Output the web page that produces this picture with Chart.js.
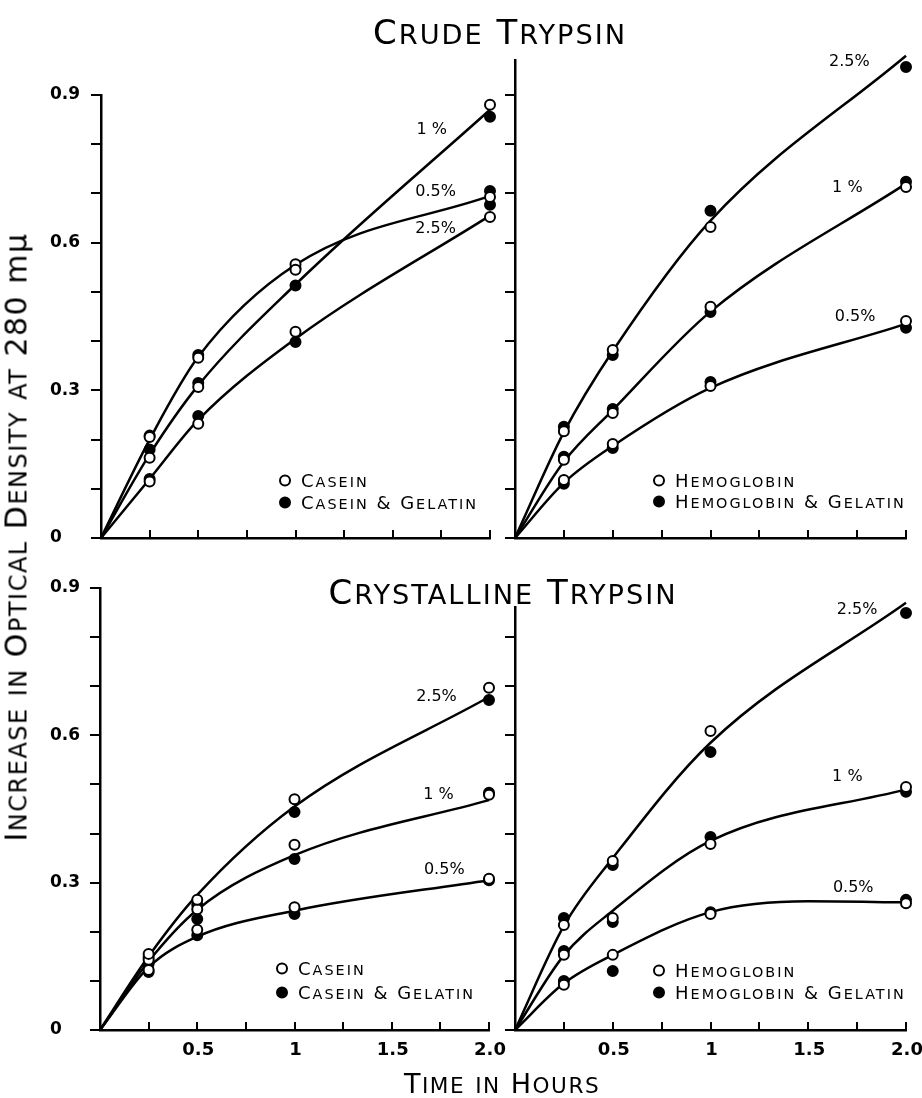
<!DOCTYPE html>
<html>
<head>
<meta charset="utf-8">
<script src="https://cdn.jsdelivr.net/npm/chart.js@4.4.1/dist/chart.umd.min.js"></script>
<style>
html,body{margin:0;padding:0;background:#fff;}
#wrap{position:relative;width:922px;height:1098px;overflow:hidden;background:#fff;}
canvas{position:absolute;left:0;top:0;}
.t{position:absolute;font-family:"DejaVu Sans";color:#000;white-space:nowrap;transform:translate(-50%,-50%);}
.s{font-size:0.8em;}
.lg{position:absolute;display:flex;align-items:center;transform:translateY(-50%);font-family:"DejaVu Sans";font-size:18px;letter-spacing:2px;color:#000;white-space:nowrap;}
.mk{display:inline-block;width:8px;height:8px;border-radius:50%;border:2px solid #000;margin-right:10px;background:#fff;flex:none;}
.mk.f{background:#000;}
</style>
</head>
<body>
<div id="wrap">
<canvas id="cTL" width="922" height="1098"></canvas>
<canvas id="cTR" width="922" height="1098"></canvas>
<canvas id="cBL" width="922" height="1098"></canvas>
<canvas id="cBR" width="922" height="1098"></canvas>
</div>
<script>
// ---------- data ----------
const times = [0.25, 0.5, 1, 2];           // sampling times (hours)
const curveTimes = [0, 0.25, 0.5, 1, 2];   // times at which the fitted curves were read
const curveTimesLong = [0, 0.25, 0.5, 1, 1.5, 2];

const xTickValues = [0.5, 1, 1.5, 2];
const xTickTexts = ['0.5', '1', '1.5', '2.0'];
const yTickValues = [0, 0.3, 0.6, 0.9];
const yTickTexts = ['0', '0.3', '0.6', '0.9'];

// Crude trypsin – casein
const crudeCas05Open = [0.205, 0.366, 0.556, 0.693];
const crudeCas05Gel  = [0.208, 0.372, 0.548, 0.705];
const crudeCas05Fit  = [0, 0.20, 0.368, 0.555, 0.695];
const crudeCas1Open  = [0.163, 0.307, 0.545, 0.88];
const crudeCas1Gel   = [0.18, 0.315, 0.513, 0.856];
const crudeCas1Fit   = [0, 0.17, 0.31, 0.515, 0.87];
const crudeCas25Open = [0.115, 0.232, 0.419, 0.652];
const crudeCas25Gel  = [0.12, 0.248, 0.398, 0.677];
const crudeCas25Fit  = [0, 0.12, 0.24, 0.405, 0.655];

// Crude trypsin – hemoglobin
const crudeHb25Open = [0.217, 0.382, 0.632, 1.016];
const crudeHb25Gel  = [0.226, 0.372, 0.665, 0.957];
const crudeHb25Fit  = [0, 0.215, 0.38, 0.645, 0.98];
const crudeHb1Open  = [0.159, 0.254, 0.47, 0.713];
const crudeHb1Gel   = [0.165, 0.262, 0.459, 0.724];
const crudeHb1Fit   = [0, 0.155, 0.26, 0.46, 0.72];
const crudeHb05Open = [0.118, 0.191, 0.309, 0.441];
const crudeHb05Gel  = [0.11, 0.183, 0.317, 0.427];
const crudeHb05Fit  = [0, 0.112, 0.187, 0.305, 0.435];

// Crystalline trypsin – casein
const crystCas25Open = [0.155, 0.265, 0.47, 0.697];
const crystCas25Gel  = [0.148, 0.255, 0.444, 0.672];
const crystCas25Fit  = [0, 0.15, 0.275, 0.455, 0.678];
const crystCas1Open  = [0.143, 0.246, 0.377, 0.479];
const crystCas1Gel   = [0.135, 0.226, 0.348, 0.483];
const crystCas1Fit   = [0, 0.14, 0.245, 0.356, 0.468];
const crystCas05Open = [0.122, 0.204, 0.25, 0.308];
const crystCas05Gel  = [0.118, 0.193, 0.236, 0.305];
const crystCas05Fit  = [0, 0.128, 0.19, 0.243, 0.305];

// Crystalline trypsin – hemoglobin
const crystHb25Open = [0.214, 0.344, 0.609, 0.89];
const crystHb25Gel  = [0.228, 0.336, 0.566, 0.849];
const crystHb25Fit  = [0, 0.212, 0.35, 0.585, 0.87];
const crystHb1Open  = [0.153, 0.228, 0.379, 0.495];
const crystHb1Gel   = [0.161, 0.22, 0.393, 0.485];
const crystHb1Fit   = [0, 0.152, 0.243, 0.385, 0.49];
const crystHb05Open = [0.092, 0.153, 0.236, 0.258];
const crystHb05Gel  = [0.1, 0.12, 0.24, 0.265];
const crystHb05Fit  = [0, 0.095, 0.153, 0.24, 0.262, 0.26];

const concTexts = ['2.5%', '1 %', '0.5%'];

// ---------- helpers ----------
const pts = (xs, ys) => ys.map((v, i) => ({x: xs[i], y: v}));
const FONT = '"DejaVu Sans"';

function markers(vals, filled) {
  return {
    data: pts(times, vals), showLine: false, clip: false,
    pointRadius: 5, pointHoverRadius: 5, pointBorderWidth: 2,
    pointBackgroundColor: filled ? '#000' : '#fff', pointBorderColor: '#000'
  };
}
function curve(vals, xs) {
  return {
    data: pts(xs || curveTimes, vals), showLine: true, clip: false,
    pointRadius: 0, borderColor: '#000', borderWidth: 2.5,
    cubicInterpolationMode: 'monotone', fill: false
  };
}
const near = (a, b) => Math.abs(a - b) < 1e-6;

const annotPlugin = {
  id: 'annot',
  afterDraw(chart, args, opts) {
    const {ctx, chartArea} = chart;
    const xs = chart.scales.x, ys = chart.scales.y;
    ctx.save();
    // upward tick marks on the time axis
    ctx.strokeStyle = '#000'; ctx.lineWidth = 2;
    xs.ticks.forEach(t => {
      if (t.value <= 0) return;
      const px = Math.round(xs.getPixelForValue(t.value));
      ctx.beginPath(); ctx.moveTo(px, chartArea.bottom); ctx.lineTo(px, chartArea.bottom - 8); ctx.stroke();
    });
    ctx.fillStyle = '#000';
    // time-axis tick labels
    if (opts.xLabels) {
      ctx.font = 'bold 18px ' + FONT;
      ctx.textAlign = 'center'; ctx.textBaseline = 'top';
      xTickValues.forEach((v, i) => ctx.fillText(xTickTexts[i], xs.getPixelForValue(v) + 1, chartArea.bottom + 11));
    }
    // concentration labels on the curves
    ctx.font = '16px ' + FONT;
    ctx.textAlign = 'center'; ctx.textBaseline = 'middle';
    (opts.labels || []).forEach(l => ctx.fillText(l.text, xs.getPixelForValue(l.x), ys.getPixelForValue(l.y)));
    ctx.restore();
  }
};

function panel(id, p) {
  new Chart(document.getElementById(id), {
    type: 'scatter',
    data: {datasets: p.datasets},
    options: {
      responsive: false, animation: false, events: [],
      layout: {autoPadding: false, padding: {left: p.left - p.yW, top: p.top, right: 922 - p.right, bottom: 1098 - p.bottom}},
      plugins: {legend: {display: false}, tooltip: {enabled: false}, title: {display: false},
        annot: {labels: p.labels, xLabels: p.xLabels}},
      scales: {
        x: {
          type: 'linear', min: 0, max: 2, position: 'bottom',
          afterFit(s) { s.height = 0; },
          grid: {display: false},
          border: {display: true, color: '#000', width: 2.5},
          ticks: {display: false, stepSize: 0.25, autoSkip: false, maxRotation: 0, includeBounds: false}
        },
        y: {
          type: 'linear', min: 0, max: p.yMax, position: 'left',
          afterFit(s) { s.width = p.yW; },
          grid: {display: true, drawOnChartArea: false, drawTicks: true, tickLength: 10, color: '#000', lineWidth: 2},
          border: {display: true, color: '#000', width: 2.5},
          ticks: {stepSize: 0.1, autoSkip: false, includeBounds: false, crossAlign: 'far', padding: 4,
            color: '#000', font: {family: 'DejaVu Sans', size: 17, weight: 'bold'},
            callback: v => { if (!p.yLabels) return ''; const i = yTickValues.findIndex(t => near(t, v)); return i >= 0 ? yTickTexts[i] : ''; }}
        }
      }
    },
    plugins: [annotPlugin]
  });
}

function sets(o25, g25, f25, o1, g1, f1, o05, g05, f05, fitXs05) {
  return [
    markers(o25, false), markers(o1, false), markers(o05, false),
    markers(g25, true), markers(g1, true), markers(g05, true),
    curve(f25), curve(f1), curve(f05, fitXs05)
  ];
}

panel('cTL', {left: 101, right: 490, top: 95, bottom: 538, yMax: 0.9, yW: 51, yLabels: true, xLabels: false,
  datasets: sets(crudeCas25Open, crudeCas25Gel, crudeCas25Fit, crudeCas1Open, crudeCas1Gel, crudeCas1Fit, crudeCas05Open, crudeCas05Gel, crudeCas05Fit),
  labels: [{text: concTexts[1], x: 1.70, y: 0.83}, {text: concTexts[2], x: 1.72, y: 0.703}, {text: concTexts[0], x: 1.72, y: 0.628}]});

panel('cTR', {left: 515, right: 906, top: 60.6, bottom: 538, yMax: 0.97, yW: 0, yLabels: false, xLabels: false,
  datasets: sets(crudeHb25Open, crudeHb25Gel, crudeHb25Fit, crudeHb1Open, crudeHb1Gel, crudeHb1Fit, crudeHb05Open, crudeHb05Gel, crudeHb05Fit),
  labels: [{text: concTexts[0], x: 1.71, y: 0.967}, {text: concTexts[1], x: 1.70, y: 0.711}, {text: concTexts[2], x: 1.74, y: 0.449}]});

panel('cBL', {left: 100, right: 489, top: 588, bottom: 1030, yMax: 0.9, yW: 50, yLabels: true, xLabels: true,
  datasets: sets(crystCas25Open, crystCas25Gel, crystCas25Fit, crystCas1Open, crystCas1Gel, crystCas1Fit, crystCas05Open, crystCas05Gel, crystCas05Fit),
  labels: [{text: concTexts[0], x: 1.73, y: 0.678}, {text: concTexts[1], x: 1.74, y: 0.479}, {text: concTexts[2], x: 1.77, y: 0.326}]});

panel('cBR', {left: 515, right: 906, top: 607.7, bottom: 1030, yMax: 0.86, yW: 0, yLabels: false, xLabels: true,
  datasets: sets(crystHb25Open, crystHb25Gel, crystHb25Fit, crystHb1Open, crystHb1Gel, crystHb1Fit, crystHb05Open, crystHb05Gel, crystHb05Fit, curveTimesLong),
  labels: [{text: concTexts[0], x: 1.75, y: 0.855}, {text: concTexts[1], x: 1.70, y: 0.515}, {text: concTexts[2], x: 1.73, y: 0.289}]});

// ---------- titles and legends (small-capital lettering) ----------
function sc(t) { return t.replace(/[a-z]+/g, m => '<span class="s">' + m.toUpperCase() + '</span>'); }
const wrap = document.getElementById('wrap');
function addText(html, x, y, size, ls, rot) {
  const d = document.createElement('div');
  d.className = 't';
  d.innerHTML = html;
  d.style.left = x + 'px'; d.style.top = y + 'px';
  d.style.fontSize = size + 'px'; d.style.letterSpacing = ls + 'px';
  if (rot) d.style.transform = 'translate(-50%,-50%) rotate(-90deg)';
  wrap.appendChild(d);
}
function addLegend(text, x, y, filled) {
  const d = document.createElement('div');
  d.className = 'lg';
  d.innerHTML = '<span class="mk' + (filled ? ' f' : '') + '"></span><span>' + sc(text) + '</span>';
  d.style.left = x + 'px'; d.style.top = y + 'px';
  wrap.appendChild(d);
}
addText(sc('Crude Trypsin'), 500, 32, 34, 2);
addText(sc('Crystalline Trypsin'), 503, 592, 34, 2);
addText(sc('Time in Hours'), 502, 1083, 27, 1.5);
addText(sc('Increase in Optical Density at 280 ') + 'mμ', 16, 537, 30, 1.5, true);

addLegend('Casein', 279, 480, false);
addLegend('Casein & Gelatin', 279, 502, true);
addLegend('Hemoglobin', 653, 480, false);
addLegend('Hemoglobin & Gelatin', 653, 501, true);
addLegend('Casein', 276, 968, false);
addLegend('Casein & Gelatin', 276, 992, true);
addLegend('Hemoglobin', 653, 970, false);
addLegend('Hemoglobin & Gelatin', 653, 992, true);
</script>
</body>
</html>
